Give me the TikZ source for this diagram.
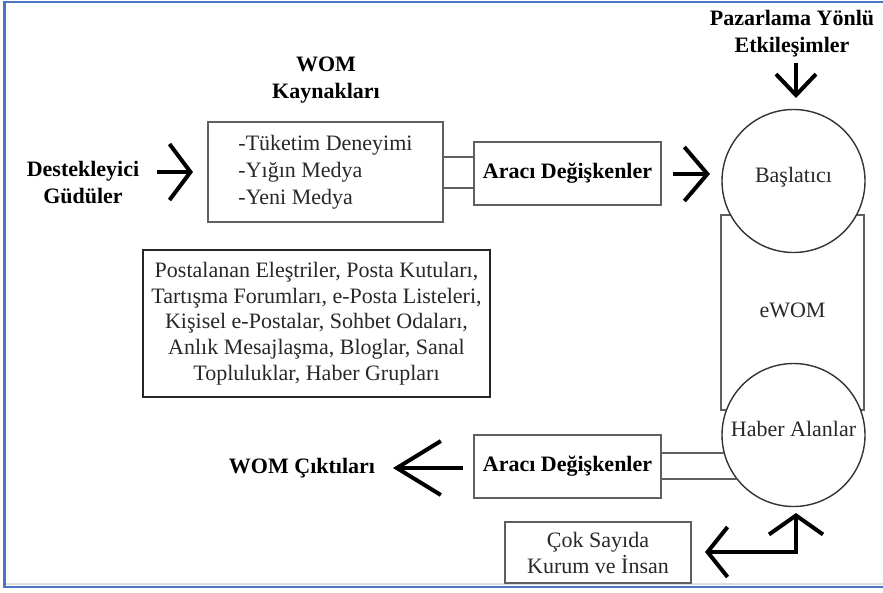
\documentclass[tikz,border=0pt]{standalone}
\usepackage{fontspec}
\setmainfont{Liberation Serif}
\usetikzlibrary{arrows.meta}
\definecolor{frameblue}{RGB}{74,118,196}
\definecolor{boxline}{RGB}{95,95,95}
\definecolor{inktext}{RGB}{40,40,40}
\begin{document}
\begin{tikzpicture}[x=1pt,y=-1pt,
  lbl/.style={font=\fontsize{22}{27}\selectfont\bfseries, text=black, inner sep=0pt, align=center},
  plain/.style={font=\fontsize{22}{27}\selectfont, text=inktext, inner sep=0pt, align=center},
  boxed/.style={draw=boxline, line width=1.3pt, inner sep=0pt, font=\fontsize{22}{27}\selectfont, text=inktext},
  circ/.style={circle, draw=black!80, line width=1.4pt, fill=white, minimum size=143pt, inner sep=0pt},
  link/.style={draw=boxline, line width=1.3pt},
  chev/.style={line width=4pt, draw=black},
]
\fill[white] (0,0) rectangle (883,592);
\useasboundingbox (0,0) rectangle (883,592);

% page frame
\draw[gray!25, line width=2pt] (6,583.5) -- (883,583.5);
\draw[frameblue, line width=2.6pt] (883,2) -- (4.3,2) -- (4.3,587) -- (883,587);

% headings
\node[lbl] (pazar) at (792,34) {Pazarlama Yönlü\\Etkileşimler};
\node[lbl] (womk) at (326,80) {WOM\\Kaynakları};
\node[lbl] (destek) at (83,182) {Destekleyici\\Güdüler};
\node[lbl] (womc) at (302,468) {WOM Çıktıları};

% source box and mediators
\node[boxed, minimum width=235pt, minimum height=100pt, align=left] (src) at (325.5,172)
  {-Tüketim Deneyimi\\-Yığın Medya\\-Yeni Medya};
\node[boxed, minimum width=187pt, minimum height=63pt, font=\fontsize{22}{27}\selectfont\bfseries, text=black] (arac1) at (567.5,173.5) {Aracı Değişkenler};
\node[boxed, minimum width=187pt, minimum height=63pt, font=\fontsize{22}{27}\selectfont\bfseries, text=black] (arac2) at (567.5,466.5) {Aracı Değişkenler};

% channel list
\node[draw=black!85, line width=2pt, minimum width=347pt, minimum height=147pt, inner sep=0pt,
      font=\fontsize{22}{25.7}\selectfont, text=inktext, align=center] (chan) at (316.5,323.5)
  {Postalanan Eleştriler, Posta Kutuları,\\Tartışma Forumları, e-Posta Listeleri,\\Kişisel e-Postalar, Sohbet Odaları,\\Anlık Mesajlaşma, Bloglar, Sanal\\Topluluklar, Haber Grupları};

% many institutions box
\node[boxed, minimum width=186pt, minimum height=61pt, align=center, font=\fontsize{22}{26}\selectfont] (cok) at (598,552.5)
  {Çok Sayıda\\Kurum ve İnsan};

% eWOM column with the two circles
\node[boxed, minimum width=143pt, minimum height=195pt] (ewom) at (792.5,312.5) {};
\node[plain] at (792.5,310) {eWOM};
\node[circ] (bas) at (793.5,181) {};
\node[plain] at (793.5,177) {Başlatıcı};
\node[circ] (hab) at (793.5,435) {};
\node[plain] at (793.5,429) {Haber Alanlar};

% double links (lower pair ends on the circle outline)
\draw[link] (src.east |- 0,157) -- (arac1.west |- 0,157);
\draw[link] (src.east |- 0,188) -- (arac1.west |- 0,188);
\path (hab.center) ++(-69.2,18) coordinate (h1);
\path (hab.center) ++(-56.4,44) coordinate (h2);
\draw[link] (arac2.east |- h1) -- (h1);
\draw[link] (arac2.east |- h2) -- (h2);

% arrows
\coordinate (a1s) at (157,172); \coordinate (a1e) at (193,172);
\draw[chev, -{Straight Barb[length=21pt,width=56pt]}] (a1s) -- (a1e);
\coordinate (a2s) at (673,174); \coordinate (a2e) at (710,174);
\draw[chev, -{Straight Barb[length=23pt,width=54pt]}] (a2s) -- (a2e);
\coordinate (a3s) at (796,63); \coordinate (a3e) at (796,98);
\draw[chev, -{Straight Barb[length=21pt,width=40pt]}] (a3s) -- (a3e);
\coordinate (a4s) at (463,468); \coordinate (a4e) at (393,468);
\draw[chev, -{Straight Barb[length=44pt,width=54pt]}] (a4s) -- (a4e);
\coordinate (b1) at (705,552); \coordinate (b2) at (796,513);
\draw[chev, {Straight Barb[length=20pt,width=50pt]}-{Straight Barb[length=19pt,width=54pt]}] (b1) -| (b2);
\end{tikzpicture}
\end{document}
